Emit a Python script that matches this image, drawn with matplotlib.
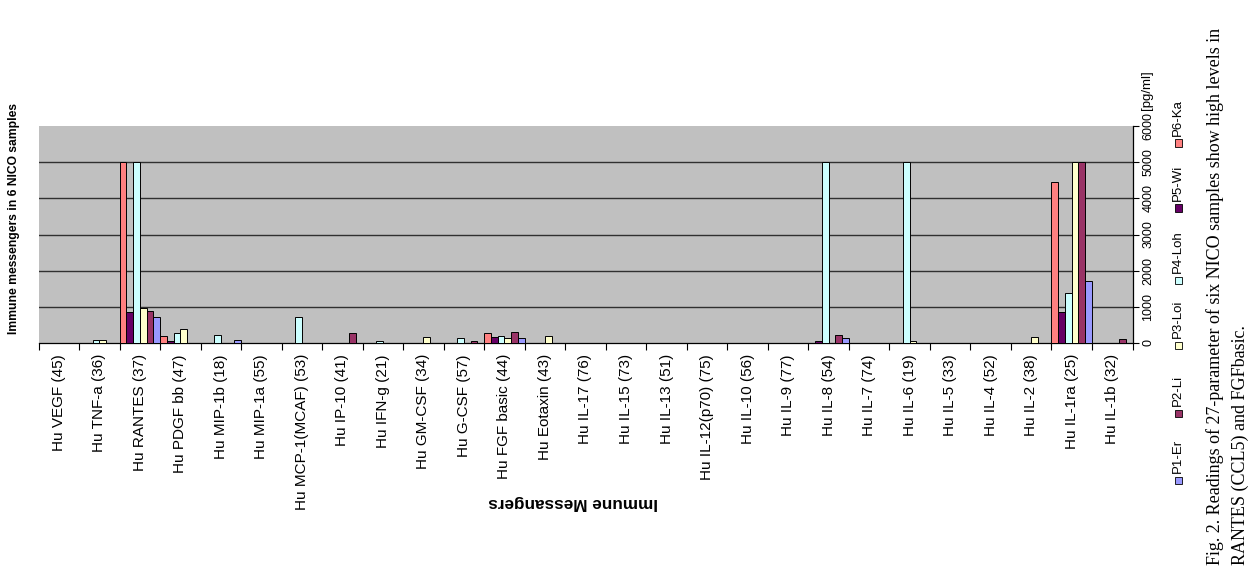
import numpy as np
import matplotlib
matplotlib.use('Agg')
import matplotlib.pyplot as plt
from matplotlib.patches import Rectangle

plt.rcParams['font.family'] = ['Liberation Sans', 'DejaVu Sans']

categories = ['Hu VEGF (45)', 'Hu TNF-a (36)', 'Hu RANTES (37)', 'Hu PDGF bb (47)',
              'Hu MIP-1b (18)', 'Hu MIP-1a (55)', 'Hu MCP-1(MCAF) (53)', 'Hu IP-10 (41)',
              'Hu IFN-g (21)', 'Hu GM-CSF (34)', 'Hu G-CSF (57)', 'Hu FGF basic (44)',
              'Hu Eotaxin (43)', 'Hu IL-17 (76)', 'Hu IL-15 (73)', 'Hu IL-13 (51)',
              'Hu IL-12(p70) (75)', 'Hu IL-10 (56)', 'Hu IL-9 (77)', 'Hu IL-8 (54)',
              'Hu IL-7 (74)', 'Hu IL-6 (19)', 'Hu IL-5 (33)', 'Hu IL-4 (52)',
              'Hu IL-2 (38)', 'Hu IL-1ra (25)', 'Hu IL-1b (32)']

#            VEGF TNF RANT PDGF 1b  1a MCP IP10 IFN GM  G  FGF Eot 17 15 13 12 10 9  IL8  7  IL6  5  4  2  1ra   1b
p1_er  = [0,   0,  720,   0,  70,  0,   0,   0,  0,  0,   0, 140,  0, 0, 0, 0, 0, 0, 0,  130, 0,    0, 0, 0,  0, 1710,   0]
p2_li  = [0,   0,  880,   0,   0,  0,   0, 270,  0,  0,  50, 300,  0, 0, 0, 0, 0, 0, 0,  220, 0,    0, 0, 0,  0, 5000, 120]
p3_loi = [0,  70,  970, 390,   0,  0,   0,   0,  0, 170,  0, 150, 200, 0, 0, 0, 0, 0, 0,    0, 0,   50, 0, 0, 160, 5000,  0]
p4_loh = [0,  80, 5000, 280, 220,  0, 720,   0, 60,  0, 130, 200,  0, 0, 0, 0, 0, 0, 0, 5000, 0, 5000, 0, 0,  0, 1380,   0]
p5_wi  = [0,   0,  860,  50,   0,  0,   0,   0,  0,  0,   0, 170,  0, 0, 0, 0, 0, 0, 0,   50, 0,    0, 0, 0,  0,  860,   0]
p6_ka  = [0,   0, 5000, 190,   0,  0,   0,   0,  0,  0,   0, 270,  0, 0, 0, 0, 0, 0, 0,    0, 0,    0, 0, 0,  0, 4450,   0]

series_names = ['P1-Er', 'P2-Li', 'P3-Loi', 'P4-Loh', 'P5-Wi', 'P6-Ka']
series_vals = [p1_er, p2_li, p3_loi, p4_loh, p5_wi, p6_ka]
colors = ['#9999FF', '#993366', '#FFFFCC', '#CCFFFF', '#660066', '#FF8080']

W, H = 1255, 568
fig = plt.figure(figsize=(W / 100, H / 100), dpi=100)

x0, x1, ytop, ybot = 38.5, 1132.5, 126, 343
ax = fig.add_axes([x0 / W, 1 - ybot / H, (x1 - x0) / W, (ybot - ytop) / H])
ax.set_facecolor('#C0C0C0')

x = np.arange(len(categories))
bw = 1 / 6
# Excel draws the series in reverse order: P6 first (left), P1 last (right)
for i, (vals, c) in enumerate(zip(series_vals, colors)):
    slot = 5 - i
    ax.bar(x - 0.5 + bw * (slot + 0.5), vals, width=bw, color=c,
           edgecolor='black', linewidth=0.7, zorder=3)

ax.set_xlim(-0.5, len(categories) - 0.5)
ax.set_ylim(0, 6000)

ax.yaxis.tick_right()
ax.set_yticks(np.arange(0, 6001, 1000))
ax.set_yticklabels([str(v) for v in range(0, 6001, 1000)], rotation=90,
                   va='center', fontsize=9)
ax.tick_params(axis='y', direction='out', length=4, width=0.8, pad=3)
for v in range(1000, 6000, 1000):
    ax.axhline(v, color='#303030', linewidth=1.0, zorder=1)

ax.set_xticks(np.arange(len(categories) + 1) - 0.5)
ax.set_xticklabels([])
ax.tick_params(axis='x', which='major', direction='out', length=5, width=0.8)
ax.set_xticks(x, categories, minor=True)
ax.tick_params(axis='x', which='minor', length=0, pad=8, labelsize=11,
               labelrotation=90)

for s in ['top', 'left']:
    ax.spines[s].set_visible(False)
ax.spines['bottom'].set_linewidth(0.9)
ax.spines['right'].set_linewidth(0.9)

fig.text(14 / W, 1 - 219 / H, 'Immune messengers in 6 NICO samples', rotation=90,
         ha='center', va='center', fontsize=8.7, fontweight='bold')
fig.text(573 / W, 1 - 502 / H, 'Immune Messangers', rotation=180,
         ha='center', va='center', fontsize=12.3, fontweight='bold')
fig.text(1147 / W, 1 - 110 / H, '[pg/ml]', rotation=90, ha='center', va='bottom',
         fontsize=9.5)

# rotated legend, read bottom to top
leg_y = [480, 413, 345, 280, 208, 143]
for name, c, yy in zip(series_names, colors, leg_y):
    fig.patches.append(Rectangle(((1178 - 3.5) / W, 1 - (yy + 3.5) / H), 7 / W, 7 / H,
                                 transform=fig.transFigure, facecolor=c,
                                 edgecolor='black', linewidth=0.6))
    fig.text(1178 / W, 1 - (yy - 7) / H, name, rotation=90, ha='center',
             va='bottom', fontsize=9.5)

fig.text(1215 / W, 1 - 565 / H,
         'Fig. 2. Readings of 27-parameter of six NICO samples show high levels in',
         rotation=90, ha='center', va='bottom', fontsize=13,
         family=['Liberation Serif', 'DejaVu Serif'])
fig.text(1240 / W, 1 - 565 / H, 'RANTES (CCL5) and FGFbasic.',
         rotation=90, ha='center', va='bottom', fontsize=13,
         family=['Liberation Serif', 'DejaVu Serif'])

fig.savefig('out.png', dpi=100)
